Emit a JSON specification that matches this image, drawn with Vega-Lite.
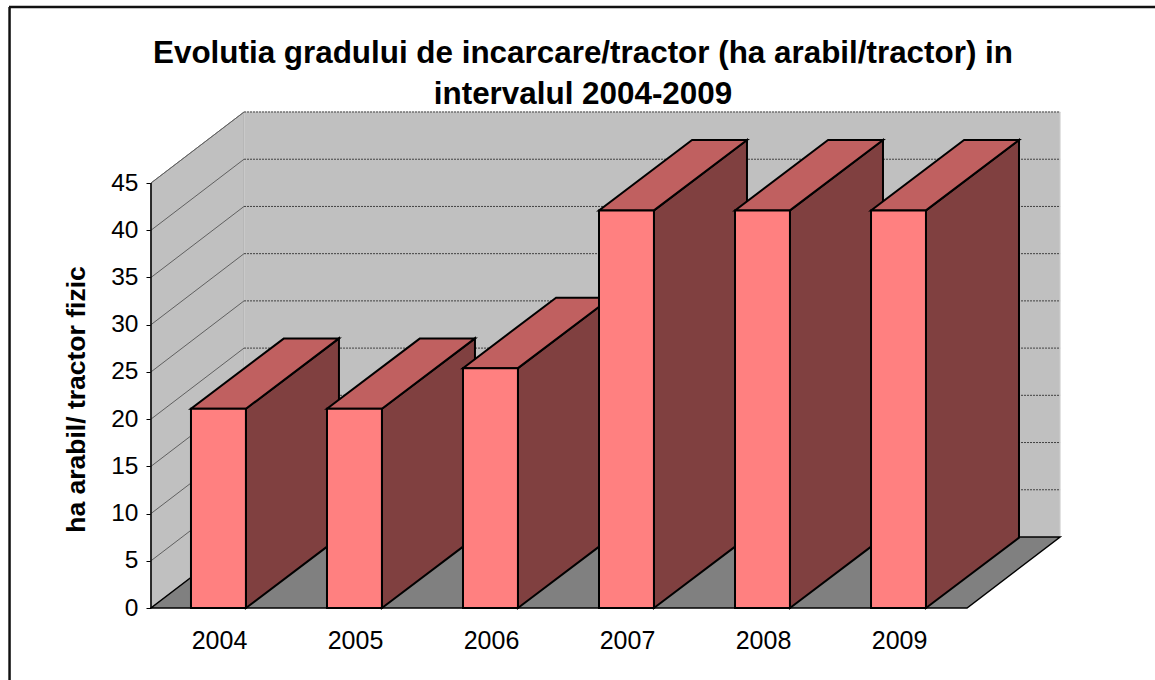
{
"$schema":"https://vega.github.io/schema/vega-lite/v6.json",
"width":1146,"height":673,
"autosize":{"type":"none"},
"padding":{"left":9,"top":7,"right":0,"bottom":0},
"background":"white",
"config":{"view":{"stroke":null,"fill":"white"},"font":"Liberation Sans"},
"title":{"text":["Evolutia gradului de incarcare/tractor (ha arabil/tractor) in","intervalul 2004-2009"],"font":"Liberation Sans","fontSize":31.4,"fontWeight":"bold","color":"black","anchor":"middle","dx":1,"offset":-105,"lineHeight":41},
"datasets":{
"bars":[{"year":2004,"value":21.1},{"year":2005,"value":21.1},{"year":2006,"value":25.4},{"year":2007,"value":42.1},{"year":2008,"value":42.1},{"year":2009,"value":42.1}],
"levels":[{"level":5},{"level":10},{"level":15},{"level":20},{"level":25},{"level":30},{"level":35},{"level":40},{"level":45}],
"depths":[{"depth":0},{"depth":1}]
},
"encoding":{
"x":{"field":"px","type":"quantitative","scale":{"domain":[2002.456,2010.882],"nice":false,"zero":false},
"axis":{"values":[2004,2005,2006,2007,2008,2009],"format":"d","title":null,"grid":false,"domain":false,"ticks":false,"offset":-72,"labelPadding":20,"labelFont":"Liberation Sans","labelFontSize":25,"labelColor":"black","labelFlush":false}},
"y":{"field":"py","type":"quantitative","scale":{"domain":[-7.624,63.64],"nice":false,"zero":false},
"axis":{"values":[0,5,10,15,20,25,30,35,40,45],"title":"ha arabil/ tractor fizic","titleFont":"Liberation Sans","titleFontSize":26.5,"titleFontWeight":"bold","titleColor":"black","titlePadding":20,"titleY":392,"grid":false,"domain":false,"ticks":true,"tickSize":5,"tickColor":"black","tickWidth":1,"offset":-142,"labelPadding":8,"labelFont":"Liberation Sans","labelFontSize":24.5,"labelColor":"black"}}
},
"layer":[
{"data":{"values":[{"edge":"top"}]},"transform":[{"calculate":"2002.456","as":"px"},{"calculate":"2010.882","as":"px2"},{"calculate":"63.64","as":"py"}],
"mark":{"type":"rule","stroke":"#111111","strokeWidth":2.5},
"encoding":{"x2":{"field":"px2"}}},
{"data":{"values":[{"edge":"left"}]},"transform":[{"calculate":"2002.46","as":"px"},{"calculate":"-7.624","as":"py"},{"calculate":"63.64","as":"py2"}],
"mark":{"type":"rule","stroke":"#111111","strokeWidth":2.5},
"encoding":{"y2":{"field":"py2"}}},
{"data":{"name":"depths"},"transform":[{"calculate":"2003.5+datum.depth*0.684","as":"px"},{"calculate":"datum.depth*7.52","as":"py"},{"calculate":"45+datum.depth*7.52","as":"py2"}],
"mark":{"type":"area","orient":"vertical","fill":"#C0C0C0","stroke":"#808080","strokeWidth":1},
"encoding":{"y2":{"field":"py2"}}},
{"data":{"name":"depths"},"transform":[{"calculate":"2004.184+datum.depth*6","as":"px"},{"calculate":"7.52","as":"py"},{"calculate":"52.52","as":"py2"}],
"mark":{"type":"area","orient":"vertical","fill":"#C0C0C0","stroke":"#D0D0D0","strokeWidth":1},
"encoding":{"y2":{"field":"py2"}}},
{"data":{"name":"depths"},"transform":[{"calculate":"2003.5+datum.depth*0.684","as":"px"},{"calculate":"datum.px+6","as":"px2"},{"calculate":"datum.depth*7.52","as":"py"}],
"mark":{"type":"area","orient":"horizontal","fill":"#808080","stroke":"black","strokeWidth":1.5},
"encoding":{"x2":{"field":"px2"}}},
{"data":{"name":"levels"},"transform":[{"calculate":"[0,1]","as":"depth"},{"flatten":["depth"]},{"calculate":"2003.5+datum.depth*0.684","as":"px"},{"calculate":"datum.level+datum.depth*7.52","as":"py"}],
"mark":{"type":"line","stroke":"#606060","strokeWidth":1},
"encoding":{"detail":{"field":"level"}}},
{"data":{"name":"levels"},"transform":[{"calculate":"2004.184","as":"px"},{"calculate":"2010.184","as":"px2"},{"calculate":"datum.level+7.52","as":"py"}],
"mark":{"type":"rule","stroke":"#404040","strokeWidth":1,"strokeDash":[2,1]},
"encoding":{"x2":{"field":"px2"}}},
{"data":{"values":[{"level":45}]},"transform":[{"calculate":"2003.5","as":"px"},{"calculate":"0","as":"py"},{"calculate":"datum.level","as":"py2"}],
"mark":{"type":"rule","stroke":"black","strokeWidth":1.5},
"encoding":{"y2":{"field":"py2"}}},
{"data":{"name":"bars"},"transform":[{"calculate":"[0,1]","as":"depth"},{"flatten":["depth"]},{"calculate":"datum.year+0.198+datum.depth*0.684","as":"px"},{"calculate":"datum.depth*7.45","as":"py"},{"calculate":"datum.value+datum.depth*7.45","as":"py2"}],
"mark":{"type":"area","orient":"vertical","fill":"#804040","stroke":"black","strokeWidth":2,"strokeJoin":"miter"},
"encoding":{"y2":{"field":"py2"},"detail":{"field":"year"}}},
{"data":{"name":"bars"},"transform":[{"calculate":"[0,1]","as":"depth"},{"flatten":["depth"]},{"calculate":"datum.year-0.206+datum.depth*0.684","as":"px"},{"calculate":"datum.year+0.198+datum.depth*0.684","as":"px2"},{"calculate":"datum.value+datum.depth*7.45","as":"py"}],
"mark":{"type":"area","orient":"horizontal","fill":"#C06060","stroke":"black","strokeWidth":2,"strokeJoin":"miter"},
"encoding":{"x2":{"field":"px2"},"detail":{"field":"year"}}},
{"data":{"name":"bars"},"transform":[{"calculate":"datum.year-0.206","as":"px"},{"calculate":"datum.year+0.198","as":"px2"},{"calculate":"0","as":"py"},{"calculate":"datum.value","as":"py2"}],
"mark":{"type":"rect","fill":"#FF8080","stroke":"black","strokeWidth":2},
"encoding":{"x2":{"field":"px2"},"y2":{"field":"py2"}}}
]
}
